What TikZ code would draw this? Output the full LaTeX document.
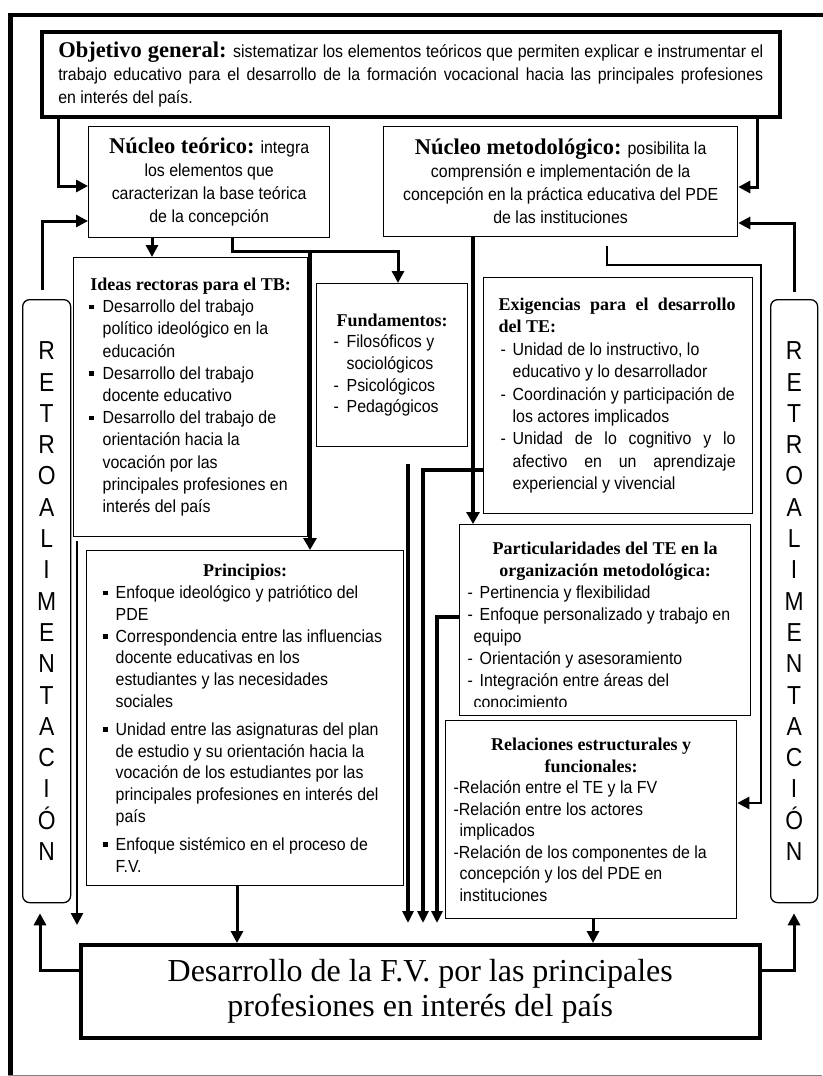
\documentclass[tikz,border=0pt]{standalone}
\usepackage{fontspec}
\usetikzlibrary{arrows.meta,calc}
\newfontfamily\bodyf[FakeStretch=0.91]{Liberation Sans}
\newfontfamily\retrof[FakeStretch=0.88]{Liberation Sans}
\newfontfamily\serf{Liberation Serif}
\newcommand\bfnt{\bodyf\fontsize{17.5}{22.2}\selectfont}
\newcommand\hd{\serf\bfseries\fontsize{18}{22}\selectfont}
\newcommand\hdB{\serf\bfseries\fontsize{22.5}{23}\selectfont}
\newcommand\sqb{\rule[3.5pt]{5pt}{4.5pt}}
\newcommand\LL[2][l]{\makebox[\lw][#1]{#2}}
\newcommand\bsq{\makebox[\bw][l]{\sqb}}
\newcommand\bdash{\makebox[\bw][l]{-}}
\newcommand\bcont{\hspace*{\bw}}
\def\lw{100pt}
\def\bw{14pt}
\begin{document}
\begin{tikzpicture}[x=1pt,y=-1pt,
  box/.style={draw,line width=1.3pt,inner sep=0pt,anchor=north west,align=left},
  bigbox/.style={draw,line width=3.5pt,inner sep=0pt,anchor=north west,align=left},
  conn/.style={line width=3pt,-{Triangle[width=12pt,length=12pt]}},
  connT/.style={line width=4.5pt,-{Triangle[width=13pt,length=12pt]}},
  connM/.style={line width=4pt,-{Triangle[width=11pt,length=12pt]}},
  retro/.style={draw,line width=1.3pt,rounded corners=7pt,inner sep=0pt,anchor=north west,align=center,font=\retrof\fontsize{26}{31.3}\selectfont}
]
\useasboundingbox (0,0) rectangle (822,1076);
% outer frame
\draw[line width=4.5pt] (10.5,1080) -- (10.5,15) -- (830,15);
\draw[gray,line width=1pt] (8,1075) -- (822,1075);

% Objetivo general
\def\lw{705pt}
\node[bigbox,minimum width=738pt,minimum height=85pt,font=\bodyf\fontsize{17.5}{23}\selectfont] (obj) at (40,30) {%
\LL[s]{{\hdB Objetivo general:} sistematizar los elementos teóricos que permiten explicar e instrumentar el}\\%
\LL[s]{trabajo educativo para el desarrollo de la formación vocacional hacia las principales profesiones}\\%
\LL{en interés del país.}};

% Nucleos
\node[box,minimum width=241pt,minimum height=111pt,align=center,font=\bodyf\fontsize{17.5}{23}\selectfont] (nt) at (88,126) {{\hdB Núcleo teórico:} integra\\los elementos que\\caracterizan la base teórica\\de la concepción};
\node[box,minimum width=354pt,minimum height=110pt,align=center,font=\bodyf\fontsize{17.5}{23}\selectfont] (nm) at (383,126) {{\hdB Núcleo metodológico:} posibilita la\\comprensión e implementación de la\\concepción en la práctica educativa del PDE\\de las instituciones};

% Ideas rectoras
\def\lw{204pt}\def\bw{14pt}
\node[box,minimum width=234pt,minimum height=279pt,font=\bfnt] (ideas) at (73,257) {%
\LL[c]{\hd Ideas rectoras para el TB:}\\%
\LL{\bsq Desarrollo del trabajo}\\%
\LL{\bcont político ideológico en la}\\%
\LL{\bcont educación}\\%
\LL{\bsq Desarrollo del trabajo}\\%
\LL{\bcont docente educativo}\\%
\LL{\bsq Desarrollo del trabajo de}\\%
\LL{\bcont orientación hacia la}\\%
\LL{\bcont vocación por las}\\%
\LL{\bcont principales profesiones en}\\%
\LL{\bcont interés del país}};

% Fundamentos
\def\lw{117pt}\def\bw{13pt}
\node[box,minimum width=151pt,minimum height=163pt,font=\bodyf\fontsize{17.5}{21.7}\selectfont] (fund) at (316,283) {%
\LL[c]{\hd Fundamentos:}\\%
\LL{\bdash Filosóficos y}\\%
\LL{\bcont sociológicos}\\%
\LL{\bdash Psicológicos}\\%
\LL{\bdash Pedagógicos}};

% Exigencias
\def\lw{239pt}\def\bw{12pt}
\node[box,minimum width=269pt,minimum height=236pt,font=\bodyf\fontsize{17.5}{22.4}\selectfont] (exig) at (483,277) {%
\LL{\makebox[237pt][s]{\hd Exigencias para el desarrollo}}\\%
\LL{\hd del TE:}\\%
\LL{\hspace*{2pt}\bdash Unidad de lo instructivo, lo}\\%
\LL{\hspace*{2pt}\bcont educativo y lo desarrollador}\\%
\LL{\hspace*{2pt}\bdash Coordinación y participación de}\\%
\LL{\hspace*{2pt}\bcont los actores implicados}\\%
\LL{\hspace*{2pt}\bdash \makebox[223pt][s]{Unidad de lo cognitivo y lo}}\\%
\LL{\hspace*{2pt}\bcont \makebox[223pt][s]{afectivo en un aprendizaje}}\\%
\LL{\hspace*{2pt}\bcont experiencial y vivencial}};

% Principios
\def\lw{285pt}\def\bw{13pt}
\node[box,minimum width=317pt,minimum height=335pt,font=\bodyf\fontsize{17.5}{21.8}\selectfont] (prin) at (86,550) {%
\LL[c]{\hd Principios:}\\%
\LL{\bsq Enfoque ideológico y patriótico del}\\%
\LL{\bcont PDE}\\%
\LL{\bsq Correspondencia entre las influencias}\\%
\LL{\bcont docente educativas en los}\\%
\LL{\bcont estudiantes y las necesidades}\\%
\LL{\bcont sociales}\\[6pt]%
\LL{\bsq Unidad entre las asignaturas del plan}\\%
\LL{\bcont de estudio y su orientación hacia la}\\%
\LL{\bcont vocación de los estudiantes por las}\\%
\LL{\bcont principales profesiones en interés del}\\%
\LL{\bcont país}\\[6pt]%
\LL{\bsq Enfoque sistémico en el proceso de}\\%
\LL{\bcont F.V.}};

% Particularidades
\def\lw{275pt}\def\bw{12pt}
\node[box,minimum width=291pt,minimum height=191pt,font=\bodyf\fontsize{17.5}{22}\selectfont] (part) at (459,524) {%
\LL[c]{\rule{0pt}{22pt}\hd Particularidades del TE en la}\\%
\LL[c]{\hd organización metodológica:}\\%
\LL{\bdash Pertinencia y flexibilidad}\\%
\LL{\bdash Enfoque personalizado y trabajo en}\\%
\LL{\hspace*{6pt}equipo}\\%
\LL{\bdash Orientación y asesoramiento}\\%
\LL{\bdash Integración entre áreas del}\\%
\LL{\hspace*{6pt}conocimiento}};
\fill[white] ($(part.south west)+(1.3,-9)$) rectangle ($(part.south east)+(-1.3,-1.3)$);

% Relaciones
\def\lw{275pt}
\node[box,minimum width=291pt,minimum height=198pt,font=\bodyf\fontsize{17.5}{21.5}\selectfont] (rel) at (445,720) {%
\LL[c]{\hd Relaciones estructurales y}\\%
\LL[c]{\hd funcionales:}\\%
\LL{-Relación entre el TE y la FV}\\%
\LL{-Relación entre los actores}\\%
\LL{\hspace*{6pt}implicados}\\%
\LL{-Relación de los componentes de la}\\%
\LL{\hspace*{6pt}concepción y los del PDE en}\\%
\LL{\hspace*{6pt}instituciones}};

% Big bottom box
\node[bigbox,minimum width=679pt,minimum height=93pt,align=center,font=\serf\fontsize{32}{35}\selectfont] (big) at (79,943) {Desarrollo de la F.V. por las principales\\profesiones en interés del país};

% Retroalimentacion boxes
\node[retro,minimum width=48pt,minimum height=603pt] (retroL) at (22,299) {R\\E\\T\\R\\O\\A\\L\\I\\M\\E\\N\\T\\A\\C\\I\\Ó\\N};
\node[retro,minimum width=47pt,minimum height=603pt] (retroR) at (770,299) {R\\E\\T\\R\\O\\A\\L\\I\\M\\E\\N\\T\\A\\C\\I\\Ó\\N};

% connectors
\draw[conn] (obj.south -| 58,0) |- (nt.west |- 0,186);
\draw[conn] ($(retroL.north -| 42,0)+(0,-9)$) |- (nt.west |- 0,221);
\draw[conn] (obj.south -| 757,0) |- (nm.east |- 0,187);
\draw[conn] ($(retroR.north -| 794,0)+(0,-7)$) |- (nm.east |- 0,223);
\draw[conn] (nt.south -| 152,0) -- (ideas.north -| 152,0);
\draw[conn] (nt.south -| 232,0) |- (398,251) -- (fund.north -| 398,0);
\coordinate (j1) at (310,251);
\draw[connT] (j1) -- (prin.north -| 310,0);
\draw[connT] (nm.south -| 473,0) -- (part.north -| 473,0);
\draw[conn,line width=2.6pt] ($(nm.south -| 607,0)+(0,9)$) |- (761,265) |- (rel.east |- 0,803);
\draw[connM] ($(fund.south -| 408,0)+(0,17)$) -- ($(big.north -| 408,0)+(0,-20)$);
\draw[connM] (exig.west |- 0,470) -| ($(big.north -| 423,0)+(0,-20)$);
\draw[connM] (part.west |- 0,617) -| ($(big.north -| 437,0)+(0,-20)$);
\draw[conn,line width=2.5pt] ($(ideas.south -| 77,0)+(0,4)$) -- ($(big.north -| 77,0)+(0,-18)$);
\draw[conn] (prin.south -| 237,0) -- (big.north -| 237,0);
\draw[conn] (rel.south -| 593,0) -- (big.north -| 593,0);
\draw[conn] (big.west |- 0,970) -| ($(retroL.south -| 40,0)+(0,10)$);
\draw[conn] (big.east |- 0,970) -| ($(retroR.south -| 794,0)+(0,10)$);
\end{tikzpicture}
\end{document}
